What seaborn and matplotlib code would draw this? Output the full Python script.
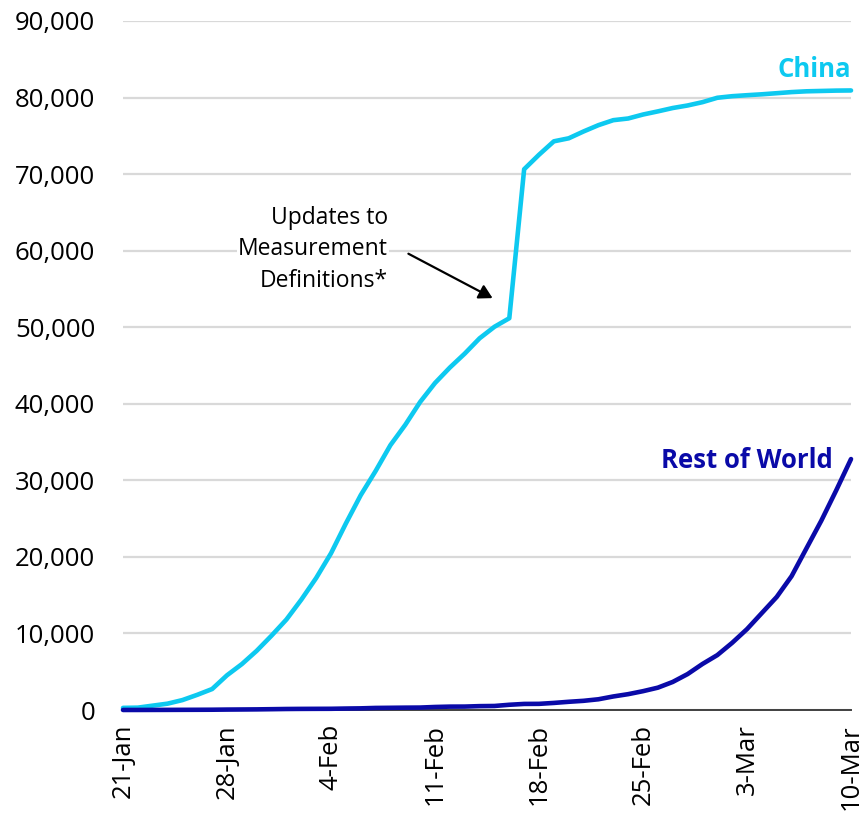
import pandas as pd
import numpy as np
import matplotlib.pyplot as plt
import matplotlib.dates as mdates
import seaborn as sns

# ==========================================
# 1. DATA (cumulative confirmed cases, 21-Jan .. 10-Mar)
# ==========================================
dates = pd.date_range('2020-01-21', '2020-03-10', freq='D')

china = [278, 309, 571, 830, 1297, 1985, 2741, 4537, 5997, 7736,
         9720, 11821, 14411, 17238, 20471, 24363, 28060, 31211, 34598, 37251,
         40235, 42708, 44730, 46550, 48548, 50054, 51174, 70635, 72528, 74280,
         74675, 75569, 76392, 77042, 77262, 77780, 78191, 78630, 78961, 79394,
         79968, 80174, 80304, 80422, 80565, 80711, 80813, 80859, 80904, 80924]

rest_of_world = [4, 5, 10, 16, 23, 29, 37, 56, 68, 82,
                 106, 132, 146, 153, 159, 191, 216, 270, 288, 307,
                 319, 395, 441, 447, 505, 526, 683, 794, 804, 924,
                 1073, 1200, 1402, 1769, 2069, 2459, 2918, 3664, 4691, 6009,
                 7169, 8774, 10566, 12668, 14768, 17481, 21110, 24727, 28674, 32778]

series_names = ['China', 'Rest of World']
series_colors = ['#0DC9F0', '#0A0AA8']

df = pd.DataFrame({
    'date': list(dates) * 2,
    'cases': china + rest_of_world,
    'region': [series_names[0]] * len(china) + [series_names[1]] * len(rest_of_world),
})

# ==========================================
# 2. PLOT
# ==========================================
sns.set_style('white')
plt.rcParams['font.family'] = ['Open Sans', 'DejaVu Sans']
plt.rcParams['text.color'] = 'black'
plt.rcParams['xtick.color'] = 'black'
plt.rcParams['ytick.color'] = 'black'

fig = plt.figure(figsize=(8.59, 8.16), dpi=100)
ax = fig.add_axes([0.1432, 0.1299, 0.8475, 0.8444])

sns.lineplot(data=df, x='date', y='cases', hue='region',
             palette=dict(zip(series_names, series_colors)),
             linewidth=3.3, legend=False, ax=ax, clip_on=False)

# grid + axis
ax.set_ylim(0, 90000)
ax.set_xlim(dates[0], dates[-1])
ax.set_yticks(np.arange(0, 90001, 10000))
ax.yaxis.set_major_formatter(plt.FuncFormatter(lambda v, p: f'{int(v):,}'))
ax.grid(axis='y', color='#D9D9D9', linewidth=1.6)
ax.set_axisbelow(True)
for s in ['left', 'right', 'top']:
    ax.spines[s].set_visible(False)
ax.spines['bottom'].set_color('#404040')
ax.spines['bottom'].set_linewidth(1.4)
ax.spines['bottom'].set_zorder(1)

ax.xaxis.set_major_locator(mdates.DayLocator(interval=7))
ax.xaxis.set_major_formatter(mdates.DateFormatter('%-d-%b'))
ax.tick_params(axis='x', labelrotation=90, labelsize=18.5, length=0, pad=10)
ax.tick_params(axis='y', labelsize=18.5, length=0, pad=20)
ax.set_xlabel('')
ax.set_ylabel('')

# series labels
ax.text(dates[-1], 83700, 'China', color=series_colors[0], fontsize=18.5,
        fontweight='bold', ha='right', va='center')
ax.text(dates[-1] - pd.Timedelta(hours=30), 32600, 'Rest of World', color=series_colors[1],
        fontsize=18.5, fontweight='bold', ha='right', va='center')

# annotation (text + separate arrow)
ax.text(dates[18] - pd.Timedelta(hours=4), 60200,
        'Updates to\nMeasurement\nDefinitions*',
        ha='right', va='center', fontsize=16.5, linespacing=1.42,
        bbox=dict(facecolor='white', edgecolor='none', pad=1))
ax.annotate('', xy=(dates[24] + pd.Timedelta(hours=21), 53800),
            xytext=(dates[19] + pd.Timedelta(hours=5), 59600),
            arrowprops=dict(arrowstyle='-|>,head_length=0.8,head_width=0.45',
                            color='black', lw=1.6, shrinkA=0, shrinkB=0))

plt.savefig('out.png', dpi=100)
